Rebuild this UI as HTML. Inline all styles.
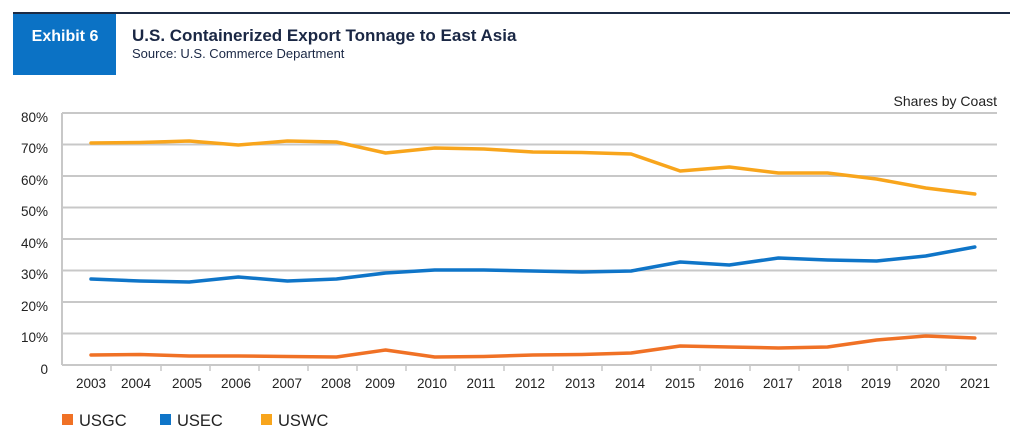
<!DOCTYPE html>
<html><head><meta charset="utf-8"><style>
body{margin:0;background:#fff;width:1024px;height:436px;overflow:hidden;font-family:"Liberation Sans",sans-serif}
</style></head><body>
<svg width="1024" height="436" xmlns="http://www.w3.org/2000/svg" font-family="Liberation Sans, sans-serif">
<rect x="13" y="12" width="997" height="2" fill="#1c2b45"/>
<rect x="13" y="14" width="103" height="61" fill="#0b72c5"/>
<text x="65" y="41" fill="#fff" font-size="16" font-weight="bold" text-anchor="middle">Exhibit 6</text>
<text x="132" y="41" fill="#1a2744" font-size="17" font-weight="bold">U.S. Containerized Export Tonnage to East Asia</text>
<text x="132" y="58" fill="#1a2744" font-size="13">Source: U.S. Commerce Department</text>
<text x="997" y="106" fill="#222" font-size="14" text-anchor="end">Shares by Coast</text>
<g stroke="#c8c8c8" stroke-width="2">
<line x1="62" y1="113" x2="997" y2="113"/><line x1="62" y1="144.5" x2="997" y2="144.5"/>
<line x1="62" y1="176" x2="997" y2="176"/><line x1="62" y1="207.5" x2="997" y2="207.5"/>
<line x1="62" y1="239" x2="997" y2="239"/><line x1="62" y1="270.5" x2="997" y2="270.5"/>
<line x1="62" y1="302" x2="997" y2="302"/><line x1="62" y1="333.5" x2="997" y2="333.5"/>
<line x1="62" y1="365" x2="997" y2="365"/><line x1="62" y1="113" x2="62" y2="365"/>
</g>
<g stroke="#c8c8c8" stroke-width="1.5">
<line x1="111" y1="365" x2="111" y2="371"/><line x1="161" y1="365" x2="161" y2="371"/><line x1="210" y1="365" x2="210" y2="371"/><line x1="259" y1="365" x2="259" y2="371"/><line x1="308" y1="365" x2="308" y2="371"/><line x1="357" y1="365" x2="357" y2="371"/><line x1="406" y1="365" x2="406" y2="371"/><line x1="455" y1="365" x2="455" y2="371"/><line x1="504" y1="365" x2="504" y2="371"/><line x1="553" y1="365" x2="553" y2="371"/><line x1="602" y1="365" x2="602" y2="371"/><line x1="651" y1="365" x2="651" y2="371"/><line x1="700" y1="365" x2="700" y2="371"/><line x1="750" y1="365" x2="750" y2="371"/><line x1="799" y1="365" x2="799" y2="371"/><line x1="848" y1="365" x2="848" y2="371"/><line x1="897" y1="365" x2="897" y2="371"/><line x1="946" y1="365" x2="946" y2="371"/>
</g>
<g font-size="13.5" fill="#222" text-anchor="end">
<text x="48" y="122">80%</text><text x="48" y="153">70%</text><text x="48" y="185">60%</text><text x="48" y="216">50%</text><text x="48" y="248">40%</text><text x="48" y="279">30%</text><text x="48" y="311">20%</text><text x="48" y="342">10%</text><text x="48" y="374">0</text>
</g>
<g font-size="13.5" fill="#222" text-anchor="middle">
<text x="91" y="388">2003</text><text x="136" y="388">2004</text><text x="187" y="388">2005</text><text x="236" y="388">2006</text><text x="287" y="388">2007</text><text x="336" y="388">2008</text><text x="380" y="388">2009</text><text x="432" y="388">2010</text><text x="481" y="388">2011</text><text x="530" y="388">2012</text><text x="580" y="388">2013</text><text x="630" y="388">2014</text><text x="680" y="388">2015</text><text x="729" y="388">2016</text><text x="778" y="388">2017</text><text x="827" y="388">2018</text><text x="876" y="388">2019</text><text x="925" y="388">2020</text><text x="975" y="388">2021</text>
</g>
<g fill="none" stroke-width="3.5" stroke-linejoin="round" stroke-linecap="round">
<polyline stroke="#f8a51c" points="91,143 140.1,142.5 189.2,141 238.3,145 287.4,141 336.5,142 385.6,153 434.7,148 483.8,149 532.9,152 582,152.5 631.1,154 680.2,171 729.3,167 778.4,173 827.5,173 876.6,179 925.7,188 974.8,194"/>
<polyline stroke="#0f75c8" points="91,279 140.1,281 189.2,282 238.3,277 287.4,281 336.5,279 385.6,273 434.7,270 483.8,270 532.9,271 582,272 631.1,271 680.2,262 729.3,265 778.4,258 827.5,260 876.6,261 925.7,256 974.8,247"/>
<polyline stroke="#f07125" points="91,355 140.1,354.5 189.2,356 238.3,356 287.4,356.5 336.5,357 385.6,350 434.7,357 483.8,356.5 532.9,355 582,354.5 631.1,353 680.2,346 729.3,347 778.4,348 827.5,347 876.6,340 925.7,336 974.8,338"/>
</g>
<rect x="62" y="414" width="11" height="11" fill="#f07125"/><text x="79" y="426" font-size="16.5" fill="#222">USGC</text>
<rect x="160" y="414" width="11" height="11" fill="#0f75c8"/><text x="177" y="426" font-size="16.5" fill="#222">USEC</text>
<rect x="261" y="414" width="11" height="11" fill="#f8a51c"/><text x="278" y="426" font-size="16.5" fill="#222">USWC</text>
</svg>
</body></html>
